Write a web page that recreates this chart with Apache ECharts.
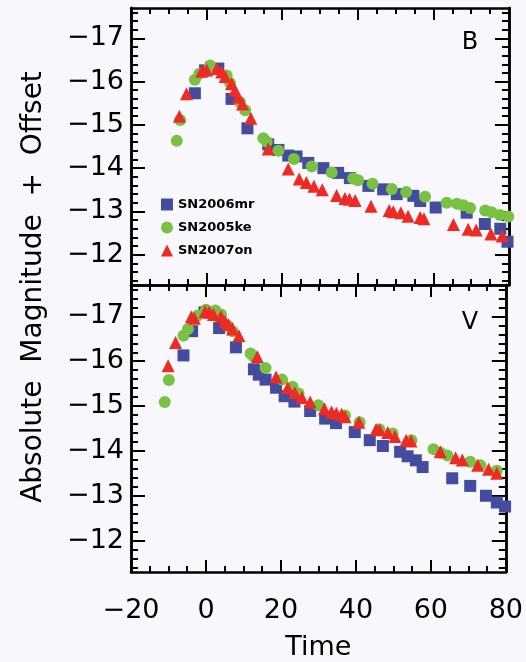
<!DOCTYPE html>
<html>
<head>
<meta charset="utf-8">
<script src="https://cdn.jsdelivr.net/npm/echarts@6/dist/echarts.min.js"></script>
<style>
  html, body { margin: 0; padding: 0; background: #f8f8fc; }
  #chart { width: 526px; height: 662px; }
</style>
</head>
<body>
<div id="chart"></div>
<script>
// ---- B-band light curves (days from maximum, absolute magnitude + offset) ----
const bTime2006mr = [-3.1, -0.4, 3.1, 6.6, 10.8, 16.3, 19.0, 21.6, 23.8, 26.9, 30.9, 34.8, 37.9, 42.8, 46.7, 50.3, 54.7, 56.5, 60.6, 68.8, 73.6, 77.7, 79.6];
const bMag2006mr  = [-15.73, -16.26, -16.30, -15.60, -14.92, -14.55, -14.42, -14.29, -14.27, -14.12, -14.00, -13.89, -13.77, -13.59, -13.51, -13.40, -13.36, -13.24, -13.09, -12.97, -12.71, -12.60, -12.30];

const bTime2005ke = [-7.9, -7.0, -3.1, -1.9, 0.9, 5.3, 6.2, 8.8, 10.2, 15.0, 15.9, 19.0, 23.1, 27.8, 33.1, 38.8, 40.1, 43.9, 49.0, 52.8, 57.8, 63.5, 66.2, 67.9, 69.7, 73.7, 75.4, 77.6, 79.8];
const bMag2005ke  = [-14.63, -15.11, -16.04, -16.18, -16.37, -16.14, -15.97, -15.53, -15.34, -14.69, -14.61, -14.40, -14.21, -14.04, -13.90, -13.76, -13.72, -13.64, -13.52, -13.45, -13.34, -13.20, -13.18, -13.14, -13.08, -13.02, -12.98, -12.92, -12.88];

const bTime2007on = [-7.2, -5.3, -1.3, 0.0, 2.7, 4.0, 4.9, 6.6, 7.5, 8.4, 9.5, 11.7, 16.3, 21.6, 24.5, 26.4, 28.4, 30.6, 34.4, 36.6, 37.8, 39.3, 43.5, 48.3, 49.4, 51.4, 53.3, 56.5, 57.5, 65.3, 69.2, 71.3, 75.2, 78.2];
const bMag2007on  = [-15.20, -15.72, -16.24, -16.27, -16.30, -16.22, -16.12, -15.95, -15.80, -15.64, -15.48, -15.15, -14.44, -13.98, -13.75, -13.67, -13.58, -13.50, -13.37, -13.30, -13.28, -13.25, -13.12, -13.02, -12.99, -12.97, -12.89, -12.86, -12.83, -12.70, -12.59, -12.57, -12.48, -12.43];

// ---- V-band light curves ----
const vTime2006mr = [-6.0, -3.7, -0.4, 3.5, 8.0, 12.8, 14.1, 15.9, 18.7, 21.0, 23.6, 27.8, 31.8, 34.7, 39.7, 43.7, 47.2, 51.8, 53.8, 56.0, 57.8, 65.7, 70.5, 74.7, 77.6, 79.8];
const vMag2006mr  = [-16.13, -16.67, -17.09, -16.74, -16.31, -15.82, -15.70, -15.59, -15.41, -15.22, -15.10, -14.89, -14.72, -14.62, -14.42, -14.24, -14.11, -13.98, -13.88, -13.79, -13.64, -13.39, -13.22, -13.00, -12.85, -12.76];

const vTime2005ke = [-11.0, -9.9, -6.0, -4.8, -2.2, 0.0, 2.5, 4.0, 6.0, 7.1, 11.9, 12.8, 15.9, 20.3, 23.1, 24.7, 30.0, 37.1, 41.0, 46.3, 49.8, 54.8, 60.7, 62.6, 64.4, 70.5, 73.2, 77.6];
const vMag2005ke  = [-15.09, -15.58, -16.57, -16.72, -17.02, -17.15, -17.13, -17.04, -16.78, -16.67, -16.17, -16.10, -15.85, -15.59, -15.43, -15.28, -15.02, -14.79, -14.64, -14.48, -14.39, -14.24, -14.04, -13.96, -13.90, -13.76, -13.68, -13.56];

const vTime2007on = [-10.1, -8.1, -3.9, -3.1, -0.2, 0.9, 2.0, 4.0, 5.1, 6.0, 7.1, 8.8, 13.7, 18.7, 21.8, 23.7, 25.6, 27.8, 31.6, 33.5, 34.8, 36.2, 37.1, 40.8, 45.4, 46.3, 48.5, 50.4, 53.4, 54.7, 62.5, 66.6, 68.4, 72.5, 75.4, 77.6];
const vMag2007on  = [-15.90, -16.42, -16.99, -16.96, -17.11, -17.09, -17.04, -17.00, -16.89, -16.82, -16.72, -16.57, -16.10, -15.65, -15.41, -15.30, -15.19, -15.09, -14.94, -14.87, -14.84, -14.82, -14.76, -14.64, -14.48, -14.47, -14.41, -14.32, -14.24, -14.22, -13.98, -13.85, -13.80, -13.68, -13.59, -13.50];

// ---- axis ticks ----
const timeTicks = [-20, 0, 20, 40, 60, 80];
const magTicks = [-17, -16, -15, -14, -13, -12];
const bandNames = ['B', 'V'];
const snNames = ['SN2006mr', 'SN2005ke', 'SN2007on'];

const MAG_MIN = -17.7, MAG_MAX = -11.3;
const FONT = 'DejaVu Sans';
const INK = '#000';
const COLORS = ['#434c9f', '#79c142', '#ed2b24'];
const SYMBOLS = ['rect', 'circle', 'triangle'];
const SIZES = [12, 12, 13];

// minor ticks every 0.2 mag between the labelled ones
const minorMag = [];
for (let k = Math.ceil(MAG_MIN * 5); k <= Math.floor(MAG_MAX * 5); k++) {
  if (k % 5 !== 0) minorMag.push(k / 5);
}

const zip = (xs, ys) => xs.map((x, i) => [x, ys[i]]);
const minus = v => (v < 0 ? '\u2212' : '') + Math.abs(v);

function timeAxis(grid, side, withLabels) {
  const ax = {
    type: 'value', gridIndex: grid, position: side,
    min: timeTicks[0], max: timeTicks[timeTicks.length - 1], interval: 20,
    axisLine: { show: true, onZero: false, lineStyle: { color: INK, width: 2.5 } },
    axisTick: { show: true, inside: true, length: 12, lineStyle: { color: INK, width: 2 } },
    minorTick: { show: true, splitNumber: 4, length: 6, lineStyle: { color: INK, width: 2 } },
    splitLine: { show: false },
    axisLabel: { show: false }
  };
  if (withLabels) {
    ax.axisLabel = { show: true, formatter: minus, fontFamily: FONT, fontSize: 27, color: INK, margin: 25 };
    ax.name = 'Time';
    ax.nameLocation = 'middle';
    ax.nameGap = 62;
    ax.nameTextStyle = { fontFamily: FONT, fontSize: 27, color: INK };
  }
  return ax;
}

function magAxis(grid, side, ticks, len, withLabels) {
  return {
    type: 'value', gridIndex: grid, position: side,
    min: MAG_MIN, max: MAG_MAX, inverse: true,
    axisLine: { show: true, onZero: false, lineStyle: { color: INK, width: 2.5 } },
    axisTick: { show: true, inside: true, length: len, customValues: ticks, lineStyle: { color: INK, width: 2 } },
    splitLine: { show: false },
    axisLabel: withLabels
      ? { show: true, customValues: magTicks, formatter: minus, fontFamily: FONT, fontSize: 27, color: INK, margin: 7 }
      : { show: false }
  };
}

const grids = [
  { left: 131, top: 8, width: 378, height: 277 },
  { left: 131, top: 285, width: 378, height: 288 }
];

const xAxes = [
  timeAxis(0, 'bottom', false), timeAxis(0, 'top', false),
  timeAxis(1, 'bottom', true), timeAxis(1, 'top', false)
];

const yAxes = [];
[0, 1].forEach(g => {
  yAxes.push(magAxis(g, 'left', magTicks, 14, true));
  yAxes.push(magAxis(g, 'right', magTicks, 14, false));
  yAxes.push(magAxis(g, 'left', minorMag, 7, false));
  yAxes.push(magAxis(g, 'right', minorMag, 7, false));
});

const panels = [
  { x: 0, y: 0, sets: [[bTime2006mr, bMag2006mr], [bTime2005ke, bMag2005ke], [bTime2007on, bMag2007on]] },
  { x: 2, y: 4, sets: [[vTime2006mr, vMag2006mr], [vTime2005ke, vMag2005ke], [vTime2007on, vMag2007on]] }
];

const series = [];
panels.forEach(p => {
  p.sets.forEach((s, i) => {
    series.push({
      type: 'scatter', name: snNames[i],
      xAxisIndex: p.x, yAxisIndex: p.y,
      symbol: SYMBOLS[i], symbolSize: SIZES[i],
      itemStyle: { color: COLORS[i], opacity: 1 },
      emphasis: { disabled: true },
      data: zip(s[0], s[1]),
      z: 2 + i
    });
  });
});

const chart = echarts.init(document.getElementById('chart'), null, { renderer: 'canvas' });
chart.setOption({
  backgroundColor: '#f8f8fc',
  animation: false,
  grid: grids,
  xAxis: xAxes,
  yAxis: yAxes,
  legend: {
    orient: 'vertical', left: 156, top: 193,
    itemWidth: 12, itemHeight: 12, itemGap: 10,
    selectedMode: false,
    textStyle: { fontFamily: FONT, fontSize: 13, fontWeight: 'bold', color: INK },
    data: snNames.map((n, i) => ({ name: n, icon: SYMBOLS[i], itemStyle: { color: COLORS[i] } }))
  },
  graphic: [
    { type: 'text', x: 470, y: 43, style: { text: bandNames[0], fontFamily: FONT, fontSize: 24, fill: INK, align: 'center', verticalAlign: 'middle' } },
    { type: 'text', x: 470, y: 323, style: { text: bandNames[1], fontFamily: FONT, fontSize: 24, fill: INK, align: 'center', verticalAlign: 'middle' } },
    { type: 'text', x: 34, y: 287, rotation: Math.PI / 2,
      style: { text: 'Absolute  Magnitude  +  Offset', fontFamily: FONT, fontSize: 28, fill: INK, align: 'center', verticalAlign: 'middle' } }
  ],
  series: series
});
</script>
</body>
</html>
